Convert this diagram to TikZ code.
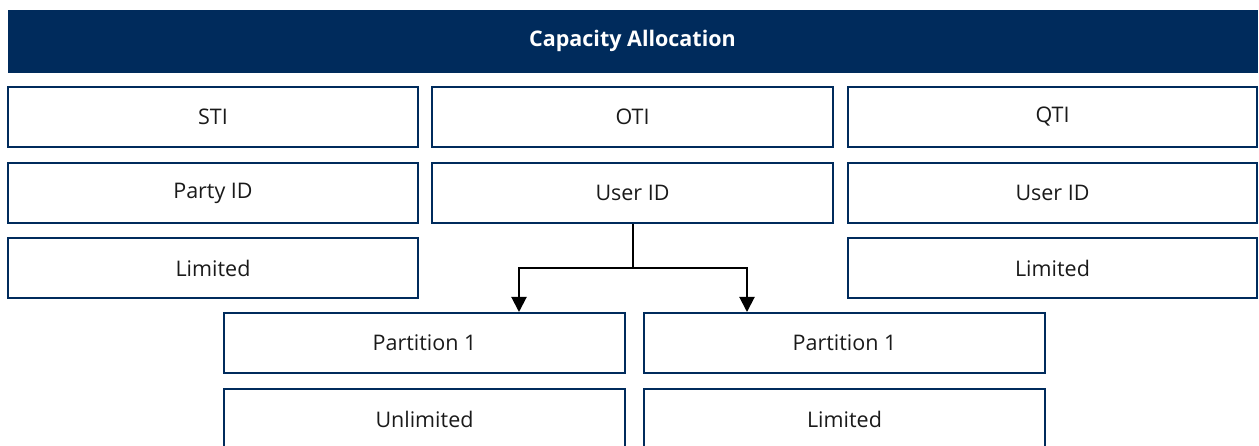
\documentclass[tikz,border=0pt]{standalone}
\usepackage{fontspec}
\setmainfont{Open Sans}
\usetikzlibrary{arrows.meta}
\definecolor{navy}{RGB}{0,43,92}
\definecolor{ink}{RGB}{26,26,26}
\tikzset{
  cell/.style={draw=navy, line width=2pt, fill=white, minimum height=60pt,
    inner sep=0pt, text=ink, font=\fontsize{21.5}{25}\selectfont},
  banner/.style={fill=navy, draw=navy, minimum height=62pt, minimum width=1249pt,
    inner sep=0pt, text=white, font=\fontsize{21.5}{25}\selectfont\bfseries},
  link/.style={draw=black, line width=2pt},
  linkarrow/.style={link, -{Triangle[width=15pt,length=15pt]}}
}
\begin{document}
\begin{tikzpicture}[x=1pt,y=-1pt]
  \useasboundingbox (0,0) rectangle (1259,446);
  \clip (0,0) rectangle (1259,446);

  % title banner
  \node[banner] (title) at (632.5,41) {Capacity Allocation};

  % first row: transaction identifiers
  \node[cell, minimum width=410pt] (sti) at (213,117) {STI};
  \node[cell, minimum width=401pt] (oti) at (632.5,117) {OTI};
  \node[cell, minimum width=409pt] (qti) at (1052.5,117) {QTI};

  % second row: identifier kinds
  \node[cell, minimum width=410pt] (partyid) at (213,193) {Party ID};
  \node[cell, minimum width=401pt] (userid) at (632.5,193) {User ID};
  \node[cell, minimum width=409pt] (quserid) at (1052.5,193) {User ID};

  % third row: limits
  \node[cell, minimum width=410pt] (slim) at (213,268) {Limited};
  \node[cell, minimum width=409pt] (qlim) at (1052.5,268) {Limited};

  % OTI partitions
  \node[cell, minimum width=401pt] (part1) at (424.5,343) {Partition 1};
  \node[cell, minimum width=401pt] (part2) at (844.5,343) {Partition 1};
  \node[cell, minimum width=401pt] (unlim) at (424.5,419) {Unlimited};
  \node[cell, minimum width=401pt] (plim) at (844.5,419) {Limited};

  % split connector from User ID to both partitions
  \coordinate (split) at (632.5,268);
  \draw[link] (userid.south) -- (split);
  \draw[linkarrow] (split) -| ([xshift=94.5pt]part1.north);
  \draw[linkarrow] (split) -| ([xshift=-97.5pt]part2.north);
\end{tikzpicture}
\end{document}
